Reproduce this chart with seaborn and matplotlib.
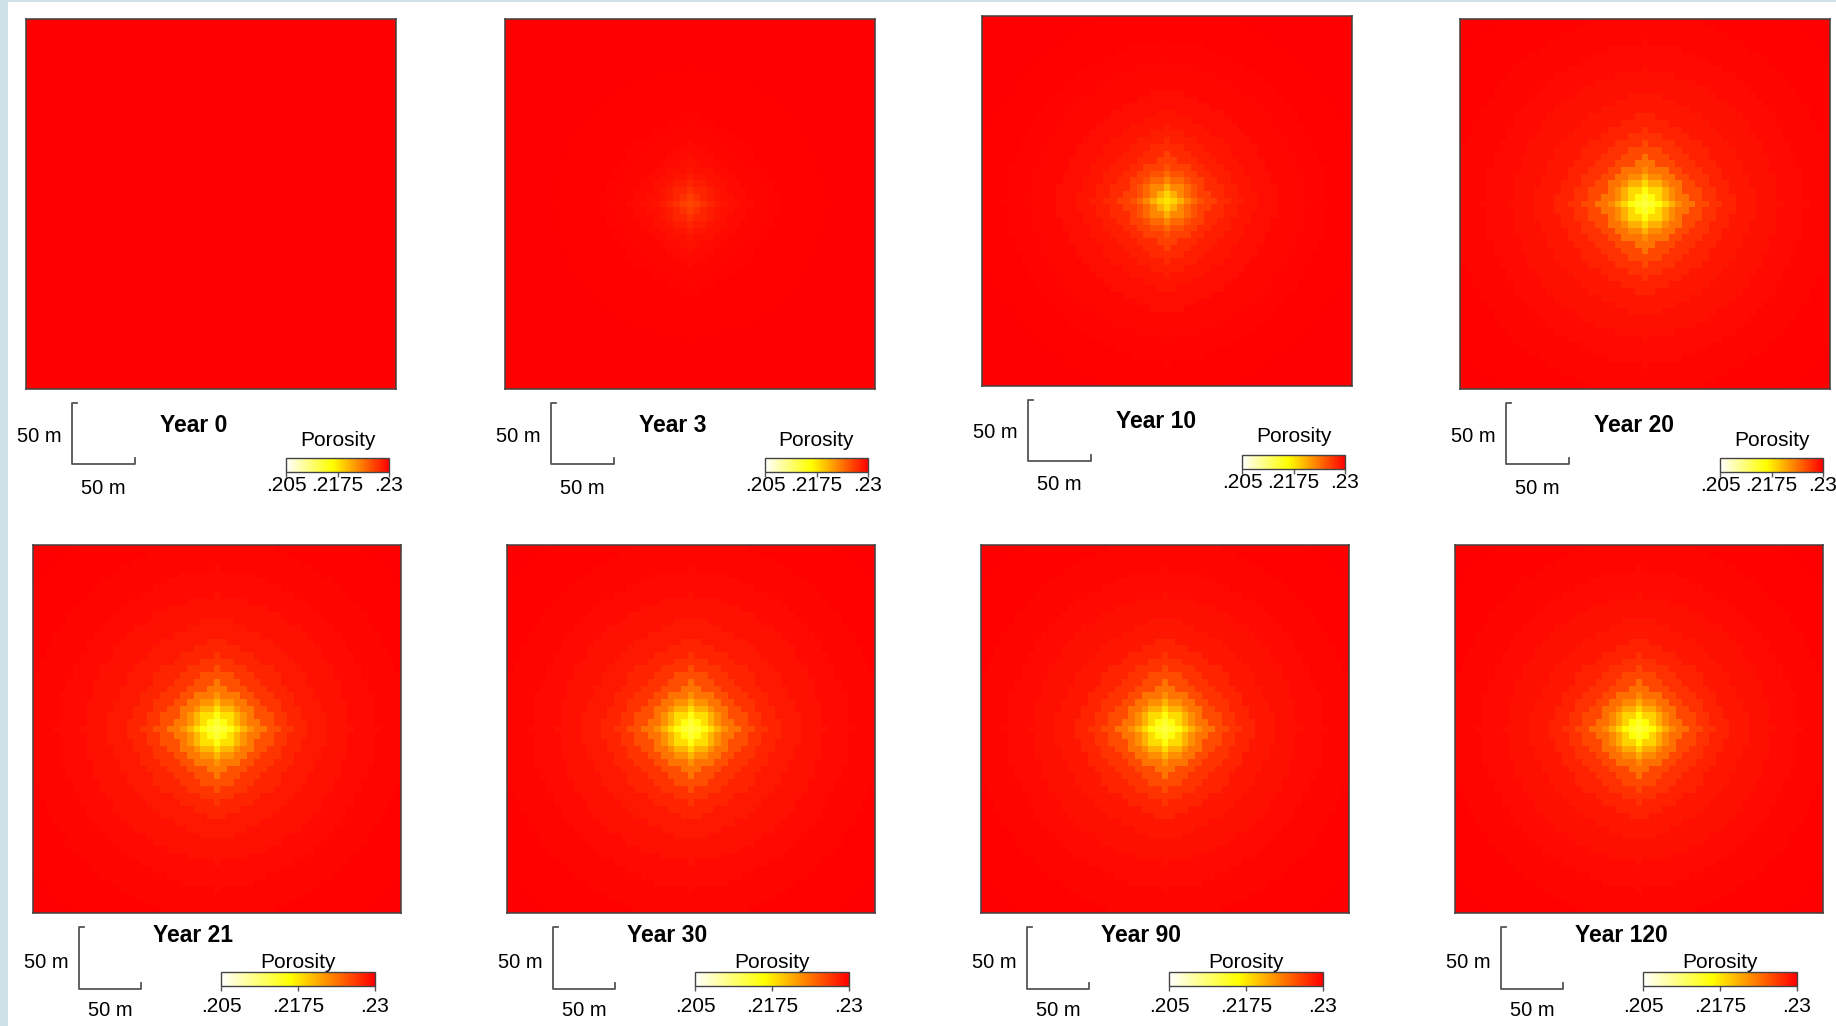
import numpy as np
import matplotlib
matplotlib.use("Agg")
import matplotlib.pyplot as plt
import seaborn as sns
from matplotlib.colors import LinearSegmentedColormap
from matplotlib.lines import Line2D
from matplotlib.patches import Rectangle

# =========================
# DATA (porosity, per ring distance from the well, in cells)
# =========================
years = ["Year 0", "Year 3", "Year 10", "Year 20", "Year 21", "Year 30", "Year 90", "Year 120"]
ring_dist = [0, 1, 2, 3, 4, 5, 6, 8, 10, 12, 15, 18, 22, 26, 32, 40]

poro_y0 = [0.2300] * 16
poro_y3 = [0.2262, 0.2266, 0.2273, 0.2280, 0.2285, 0.2289, 0.2292, 0.2295,
           0.2297, 0.2298, 0.2299, 0.2299, 0.2300, 0.2300, 0.2300, 0.2300]
poro_y10 = [0.2176, 0.2186, 0.2205, 0.2226, 0.2243, 0.2256, 0.2265, 0.2277,
            0.2284, 0.2289, 0.2293, 0.2296, 0.2298, 0.2299, 0.2300, 0.2300]
poro_y20 = [0.2135, 0.2142, 0.2158, 0.2182, 0.2205, 0.2224, 0.2238, 0.2260,
            0.2273, 0.2282, 0.2288, 0.2292, 0.2295, 0.2297, 0.2299, 0.2300]
poro_y21 = [0.2132, 0.2139, 0.2155, 0.2178, 0.2201, 0.2220, 0.2235, 0.2257,
            0.2271, 0.2280, 0.2287, 0.2291, 0.2295, 0.2297, 0.2299, 0.2300]
poro_y30 = [0.2133, 0.2140, 0.2156, 0.2180, 0.2203, 0.2222, 0.2237, 0.2258,
            0.2272, 0.2281, 0.2287, 0.2291, 0.2295, 0.2297, 0.2299, 0.2300]
poro_y90 = [0.2134, 0.2141, 0.2157, 0.2181, 0.2204, 0.2223, 0.2238, 0.2259,
            0.2272, 0.2281, 0.2288, 0.2292, 0.2295, 0.2297, 0.2299, 0.2300]
poro_y120 = [0.2138, 0.2145, 0.2162, 0.2186, 0.2208, 0.2226, 0.2240, 0.2261,
             0.2273, 0.2282, 0.2288, 0.2292, 0.2295, 0.2297, 0.2299, 0.2300]
profiles = [poro_y0, poro_y3, poro_y10, poro_y20, poro_y21, poro_y30, poro_y90, poro_y120]

cbar_ticks = [0.205, 0.2175, 0.23]
cbar_labels = [".205", ".2175", ".23"]
scale_label = "50 m"

# =========================
# LAYOUT (pixels)
# =========================
W, H = 1836, 1026
panel_left = [26, 505, 982, 1460, 33, 507, 981, 1455]
panel_top = [19, 19, 16, 19, 545, 545, 545, 545]
panel_size = [370, 370, 370, 370, 368, 368, 368, 368]
N = 55  # grid cells per side

row_opts = [
    dict(year_dx=134, year_dy=36, cb_dx=260, cb_w=103, cb_dy=69, por_dy=51, tick_dy=96.5, bar_right=109, bar_bottom=75, lab_dy=47, blab_dy=99),
    dict(year_dx=120, year_dy=23, cb_dx=188, cb_w=154, cb_dy=59, por_dy=49, tick_dy=93, bar_right=108, bar_bottom=76, lab_dy=49, blab_dy=98),
]

heat = LinearSegmentedColormap.from_list(
    "heat", [(0.0, "#ffffff"), (0.45, "#ffff00"), (1.0, "#ff0000")])

plt.rcParams["font.family"] = ["Liberation Sans", "DejaVu Sans"]
GRAY = "#555555"


def fx(px):
    return px / W


def fy(py):
    return 1 - py / H


def build_grid(profile):
    # diamond-like near the well, rounder further out
    c = (N - 1) / 2
    yy, xx = np.mgrid[0:N, 0:N]
    dx, dy = np.abs(xx - c), np.abs(yy - c)
    r = np.hypot(dx, dy)
    w = np.clip(0.65 - 0.03 * r, 0.1, 0.65)
    d = w * (dx + dy) + (1 - w) * r
    rd = np.array(ring_dist)
    idx = np.abs(d[..., None] - rd[None, None, :]).argmin(axis=-1)
    return np.array(profile)[idx]


fig = plt.figure(figsize=(W / 100, H / 100), dpi=100)
fig.patch.set_facecolor("white")
# light background strips of the slide
fig.add_artist(Rectangle((0, 0), fx(8), 1, transform=fig.transFigure, color="#cfe0e6", lw=0))
fig.add_artist(Rectangle((0, fy(2)), 1, 2 / H, transform=fig.transFigure, color="#cfe0e6", lw=0))

for i, year in enumerate(years):
    x0, y0, s = panel_left[i], panel_top[i], panel_size[i]
    yb = y0 + s
    o = row_opts[i // 4]

    ax = fig.add_axes([fx(x0), fy(yb), s / W, s / H])
    sns.heatmap(build_grid(profiles[i]), ax=ax, cmap=heat, vmin=0.205, vmax=0.23,
                cbar=False, xticklabels=False, yticklabels=False)
    for sp in ax.spines.values():
        sp.set_visible(True)
        sp.set_color("#404040")
        sp.set_linewidth(1.1)

    # scale bar
    vx = x0 + 46
    top, bot, right = yb + 14, yb + o["bar_bottom"], x0 + o["bar_right"]
    pts = [(vx + 5, top), (vx, top), (vx, bot), (right, bot), (right, bot - 6)]
    fig.add_artist(Line2D([fx(p[0]) for p in pts], [fy(p[1]) for p in pts],
                          transform=fig.transFigure, color=GRAY, lw=1.3))
    fig.text(fx(x0 + 36), fy(yb + o["lab_dy"]), scale_label, ha="right", va="center", fontsize=14.5)
    fig.text(fx(x0 + 77), fy(yb + o["blab_dy"]), scale_label, ha="center", va="center", fontsize=14.5)

    # year title
    fig.text(fx(x0 + o["year_dx"]), fy(yb + o["year_dy"]), year, ha="left", va="center",
             fontsize=16.5, fontweight="bold")

    # colorbar
    cbx = x0 + o["cb_dx"]
    cby = yb + o["cb_dy"]
    cax = fig.add_axes([fx(cbx), fy(cby + 14), o["cb_w"] / W, 14 / H])
    cb = fig.colorbar(ax.collections[0], cax=cax, orientation="horizontal")
    cb.set_ticks(cbar_ticks)
    cb.outline.set_edgecolor("#444444")
    cb.outline.set_linewidth(1.0)
    cax.tick_params(length=3.5, width=1.0, color=GRAY, labelbottom=False)
    for t, lab in zip(cbar_ticks, cbar_labels):
        tx = cbx + (t - cbar_ticks[0]) / (cbar_ticks[-1] - cbar_ticks[0]) * o["cb_w"]
        fig.text(fx(tx), fy(yb + o["tick_dy"]), lab, ha="center", va="center", fontsize=15)
    fig.text(fx(cbx + o["cb_w"] / 2), fy(yb + o["por_dy"]), "Porosity", ha="center",
             va="center", fontsize=15)

fig.savefig("out.png", dpi=100)
